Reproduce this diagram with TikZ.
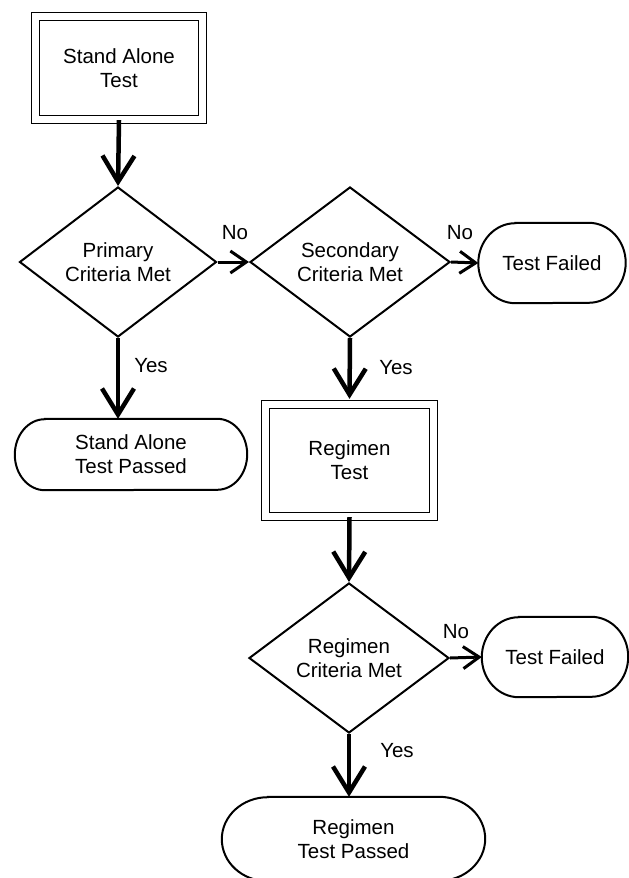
\documentclass[tikz,border=0pt]{standalone}
\usepackage{fontspec}
\setmainfont{Liberation Sans}
\usetikzlibrary{shapes.geometric,arrows.meta}
% outline of an end node: node, depth of the round ends, half height
\newcommand{\Stadium}[3]{%
  \draw[termline] ([xshift=#2]#1.north west) -- ([xshift=-#2]#1.north east)
    arc[start angle=90, end angle=-90, x radius=#2, y radius=#3]
    -- ([xshift=#2]#1.south west)
    arc[start angle=270, end angle=90, x radius=#2, y radius=#3] -- cycle;}

\begin{document}
\begin{tikzpicture}[x=1pt,y=-1pt]
        \tikzset{every node/.style={font=\fontsize{20.5}{24}\selectfont, align=center}}
        \tikzset{testbox/.style={draw, double, double distance=6.5pt, line width=1.3pt, inner sep=0pt}}
        \tikzset{critbox/.style={draw, diamond, line width=2pt, inner sep=0pt, minimum height=150pt}}
        \tikzset{endbox/.style={inner sep=0pt}}
        \tikzset{termline/.style={line width=2pt}}
        \tikzset{mainflow/.style={line width=4.5pt, -{Straight Barb[length=26pt,width=32pt]}}}
        \tikzset{sideflow/.style={line width=3pt, -{Straight Barb[length=16pt,width=22pt]}}}
        \useasboundingbox (0,0) rectangle (629,878);

        % boxes
        \node[testbox, minimum width=167pt, minimum height=103pt] (saTest) at (119,68) {Stand Alone\\Test};
        \node[critbox, minimum width=197pt] (primCrit) at (118,262) {Primary\\Criteria Met};
        \node[critbox, minimum width=200pt] (secCrit) at (350,262) {Secondary\\Criteria Met};
        \node[endbox, minimum width=147pt, minimum height=80pt] (failA) at (552,263) {Test Failed};
        \node[endbox, minimum width=232pt, minimum height=71pt] (saPass) at (131,454.5) {Stand Alone\\Test Passed};
        \node[testbox, minimum width=168pt, minimum height=112pt] (regTest) at (349.5,460.5) {Regimen\\Test};
        \node[critbox, minimum width=200pt] (regCrit) at (349,658) {Regimen\\Criteria Met};
        \node[endbox, minimum width=146pt, minimum height=80pt] (failB) at (555,657) {Test Failed};
        \node[endbox, minimum width=263pt, minimum height=84pt] (regPass) at (353.5,839) {Regimen\\Test Passed};
        \Stadium{failA}{37pt}{40pt}
        \Stadium{saPass}{30pt}{35.5pt}
        \Stadium{failB}{37pt}{40pt}
        \Stadium{regPass}{46pt}{42pt}

        % flow
        \draw[mainflow] (saTest.south) -- (primCrit.north);
        \draw[mainflow] (primCrit.south) -- (primCrit.south |- saPass.north);
        \draw[mainflow] (secCrit.south) -- ([yshift=5pt]regTest.north);
        \draw[mainflow] (regTest.south) -- (regCrit.north);
        \draw[mainflow] (regCrit.south) -- (regCrit.south |- regPass.north);
        \draw[sideflow] (primCrit.east) -- (secCrit.west);
        \draw[sideflow] (secCrit.east) -- (failA.west);
        \draw[sideflow] (regCrit.east) -- (failB.west);

        % answers
        \node (noA) at (235,233) {No};
        \node (noB) at (460,233) {No};
        \node (noC) at (456,632) {No};
        \node (yesA) at (151,366) {Yes};
        \node (yesB) at (396,368) {Yes};
        \node (yesC) at (397,751) {Yes};
\end{tikzpicture}
\end{document}
